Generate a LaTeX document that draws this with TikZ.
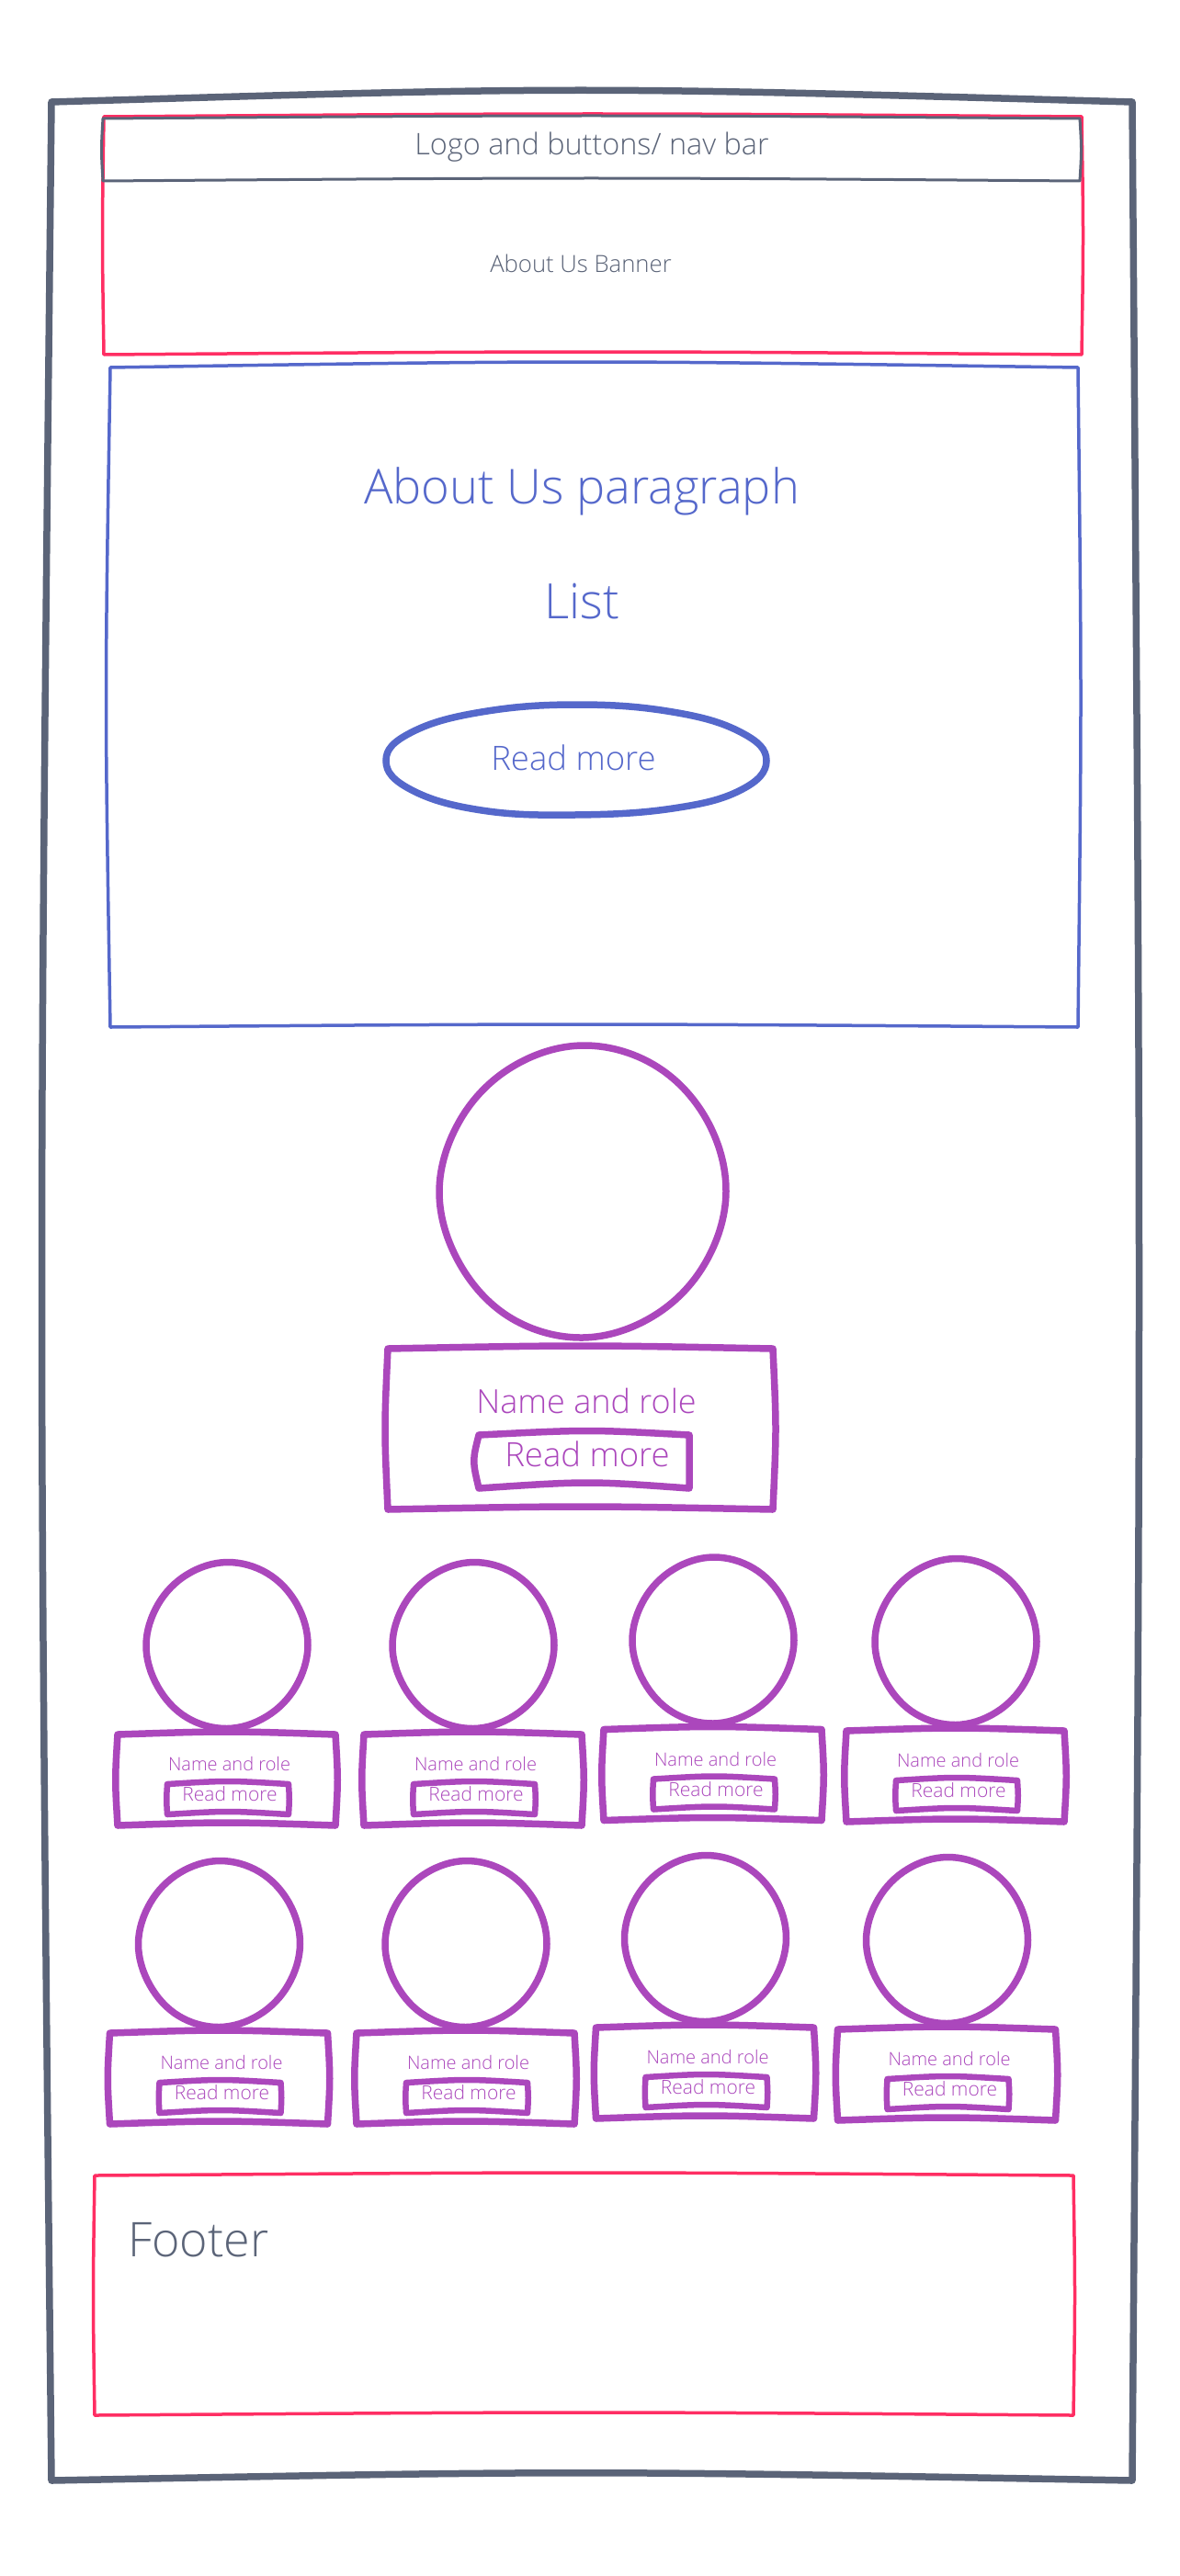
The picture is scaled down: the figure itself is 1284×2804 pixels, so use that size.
\documentclass[tikz,border=0pt]{standalone}
\usepackage{fontspec}
\setmainfont{Open Sans Light}
\definecolor{cgray}{HTML}{5B6478}
\definecolor{cblue}{HTML}{5568CB}
\definecolor{cpurple}{HTML}{AB47BC}
\definecolor{cred}{HTML}{FF2E63}
\newcommand{\fsz}[1]{\fontsize{#1}{#1}\selectfont}
\tikzset{
  lbl/.style={inner sep=0pt,anchor=center},
  outerln/.style={draw=cgray,line width=7.5pt,line join=round},
  redln/.style={draw=cred,line width=3.5pt,line join=round},
  navln/.style={draw=cgray,line width=3pt,line join=round},
  blueln/.style={draw=cblue,line width=3.5pt,line join=round},
  purln/.style={draw=cpurple,line width=7.5pt,line join=round},
  purthin/.style={draw=cpurple,line width=6.5pt,line join=round},
}
% hand-drawn box: [side bulge], style, x1,y1,x2,y2
\newcommand{\WBox}[6][4]{%
  \draw[#2] (#3,#4) .. controls ({(#3+#5)/2},{#4-4}) .. (#5,#4)
    .. controls ({#5+#1},{(#4+#6)/2}) .. (#5,#6)
    .. controls ({(#3+#5)/2},{#6-4}) .. (#3,#6)
    .. controls ({#3-#1},{(#4+#6)/2}) .. cycle;}
% hand-drawn circle: style, cx,cy,rx,ry
\newcommand{\WPt}[4]{({cos(#1)*#2*#3},{-sin(#1)*#2*#4})}
\newcommand{\WCircle}[5]{%
  \begin{scope}[shift={(#2,#3)}]
  \draw[#1] plot[smooth cycle,tension=.63] coordinates {
   \WPt{0}{1}{#4}{#5} \WPt{30}{.995}{#4}{#5} \WPt{60}{1}{#4}{#5} \WPt{90}{1}{#4}{#5}
   \WPt{120}{.985}{#4}{#5} \WPt{150}{.985}{#4}{#5} \WPt{180}{1}{#4}{#5} \WPt{210}{.99}{#4}{#5}
   \WPt{240}{1}{#4}{#5} \WPt{270}{1}{#4}{#5} \WPt{300}{.985}{#4}{#5} \WPt{330}{.985}{#4}{#5}};
  \end{scope}}
% team member: dx, dy, id
\newcommand{\Member}[3]{%
  \begin{scope}[shift={(#1,#2)}]
  \WCircle{purln}{247}{1791}{88}{90.5}
  \WBox[3]{purln}{128}{1888}{365}{1987}
  \WBox[1]{purthin}{182}{1942}{314}{1975}
  \node[lbl,text=cpurple] (name#3) at (249.5,1920) {\fsz{20}Name and role};
  \node[lbl,text=cpurple] (read#3) at (250,1953) {\fsz{21}Read more};
  \end{scope}}
\begin{document}
\begin{tikzpicture}[x=1pt,y=-1pt]
\useasboundingbox (0,0) rectangle (1284,2804);
\fill[white] (0,0) rectangle (1284,2804);
% outer frame
\draw[outerln] (56,111) .. controls (628,94) .. (1232,111)
  .. controls (1242,1400) .. (1232,2700)
  .. controls (628,2689) .. (56,2700)
  .. controls (42,1400) .. cycle;
% banner
\WBox[2]{redln}{113}{127}{1177}{386}
\WBox[2]{navln}{112}{129}{1175}{197}
\node[lbl,text=cgray] (nav) at (644,160) {\fsz{32.4}Logo and buttons/ nav bar};
\node[lbl,text=cgray] (banner) at (632,287) {\fsz{25.7}About Us Banner};
% about
\draw[blueln] (120,400) .. controls (628,392) .. (1173,400)
  .. controls (1177,760) .. (1173,1118)
  .. controls (628,1114) .. (120,1118)
  .. controls (114,760) .. cycle;
\node[lbl,text=cblue] (para) at (633,535) {\fsz{52.4}About Us paragraph};
\node[lbl,text=cblue] (list) at (633,655) {\fsz{53}List};
\draw[draw=cblue,line width=7.5pt] plot[smooth cycle,tension=.7] coordinates {
  (420,828) (448,797) (524,775) (628,767) (732,775) (806,797) (834,828)
  (806,860) (732,880) (625,887) (524,882) (448,860)};
\node[lbl,text=cblue] (readbig) at (624,825) {\fsz{36.5}Read more};
% lead member
\WCircle{purln}{634}{1297}{156}{159}
\WBox[4]{purln}{422}{1468}{841}{1643}
\draw[purln] (521,1562) .. controls (640,1556) .. (750,1562) -- (750,1620)
  .. controls (640,1612) .. (521,1620) .. controls (514,1590) .. cycle;
\node[lbl,text=cpurple] (leadname) at (638,1525) {\fsz{36}Name and role};
\node[lbl,text=cpurple] (leadread) at (639,1583) {\fsz{36.5}Read more};
% team
\Member{0}{0}{a}
\Member{268}{0}{b}
\Member{529}{-5.5}{c}
\Member{793}{-4}{d}
\Member{-8.5}{325}{e}
\Member{260}{325}{f}
\Member{520.5}{319}{g}
\Member{783.5}{321}{h}
% footer
\WBox[2]{redln}{103}{2368}{1168}{2629}
\node[lbl,text=cgray,anchor=base west] (footer) at (139,2456) {\fsz{52}Footer};
\end{tikzpicture}
\end{document}
